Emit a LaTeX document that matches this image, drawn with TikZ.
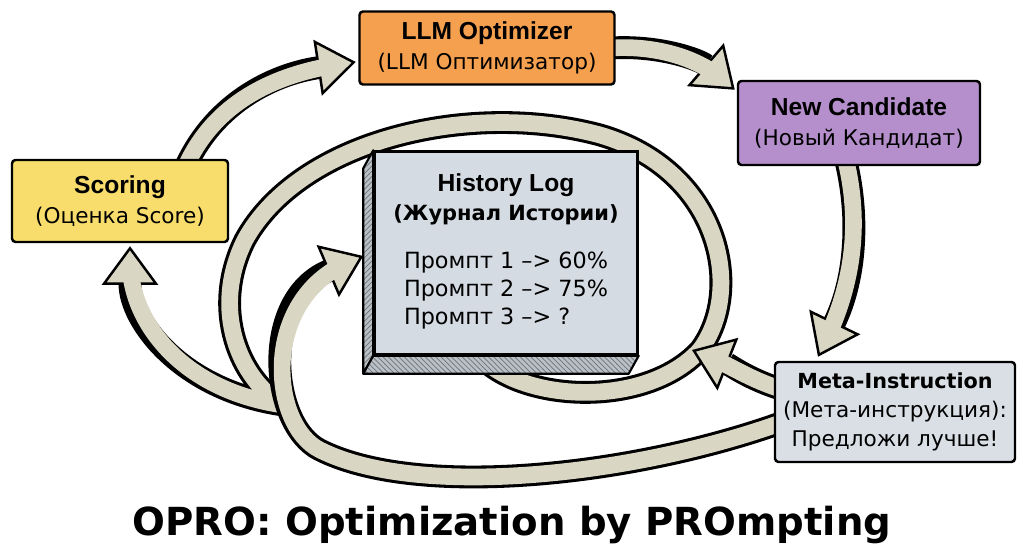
\documentclass[tikz,border=0pt]{standalone}
\usepackage{fontspec}
\setmainfont{Liberation Sans}
\newfontfamily\comicfont{DejaVu Sans}
\usetikzlibrary{arrows.meta,backgrounds,patterns}

\definecolor{arrowfill}{HTML}{DAD6C4}
\definecolor{optorange}{HTML}{F4A04F}
\definecolor{candpurple}{HTML}{B48FCB}
\definecolor{scoreyellow}{HTML}{F8DD6D}
\definecolor{histface}{HTML}{D4DBE2}
\definecolor{histside}{HTML}{B8C0C8}
\definecolor{metaface}{HTML}{D9DFE5}

\newcommand{\boxhead}[1]{{\bfseries\fontsize{14}{17}\selectfont #1}}
\newcommand{\boxsub}[1]{{\comicfont\fontsize{12.3}{17}\selectfont #1}}

\begin{document}
\begin{tikzpicture}[
  box/.style={draw,line width=1.4pt,rounded corners=2pt,align=center,inner sep=2pt,
    font=\fontsize{12}{17}\selectfont},
  fatarrow/.style={draw=black,line width=13pt,line join=round,
    -{Triangle[length=22pt,width=32pt,line width=1.4pt,fill=arrowfill]},
    postaction={draw=arrowfill,line width=9.5pt,-,shorten >=9pt}},
  sideface/.style={draw,line width=1.2pt,line join=round,pattern=north east lines,
    pattern color=black!55,preaction={fill=histside}}
]
  \useasboundingbox (0,0) rectangle (20.48,11.18);

  \node (llm) at (9.74,10.22) [box,fill=optorange,minimum width=5.1cm,minimum height=1.46cm]
    {\boxhead{LLM Optimizer}\\\boxsub{(LLM Оптимизатор)}};
  \node (nc) at (17.18,8.72) [box,fill=candpurple,minimum width=4.84cm,minimum height=1.68cm]
    {\boxhead{New Candidate}\\\boxsub{(Новый Кандидат)}};
  \node (scoring) at (2.40,7.16) [box,fill=scoreyellow,minimum width=4.32cm,minimum height=1.64cm]
    {\boxhead{Scoring}\\\boxsub{(Оценка Score)}};
  \node (hist) at (10.12,6.12) [box,fill=histface,rounded corners=0pt,minimum width=5.26cm,minimum height=4.06cm]
    {\boxhead{History Log}\\{\comicfont\bfseries\fontsize{11.9}{17}\selectfont (Журнал Истории)}\\[12pt]
     {\comicfont\fontsize{12.7}{16}\selectfont\begin{tabular}{@{}l@{}}Промпт 1 –> 60\%\\Промпт 2 –> 75\%\\Промпт 3 –> ?\end{tabular}}};
  \node (meta) at (17.90,2.94) [box,fill=metaface,minimum width=4.8cm,minimum height=2.0cm,
    font=\fontsize{12}{16.4}\selectfont]
    {{\comicfont\bfseries\fontsize{11.8}{16}\selectfont Meta-Instruction}\\\boxsub{(Мета-инструкция):}\\\boxsub{Предложи лучше!}};

  \node (title) at (10.24,0.68) [font=\comicfont\bfseries\fontsize{22}{26}\selectfont]
    {OPRO: Optimization by PROmpting};

  \begin{scope}[on background layer]
    \coordinate (ringhit) at (13.84,4.18);
    % ring round the history log, ending at scoring
    \draw[fatarrow] ([xshift=-0.72cm,yshift=0.3cm]hist.south) .. controls (9.90,3.18) and (12.80,2.88) .. (14.00,4.18)
      .. controls (14.90,5.38) and (14.40,7.78) .. (12.00,8.48)
      .. controls (9.40,9.18) and (6.00,8.38) .. (4.90,6.38)
      .. controls (4.20,4.98) and (4.80,3.58) .. (5.66,3.08)
      .. controls (3.60,3.38) and (2.60,4.78) .. ([xshift=0.2cm,yshift=-0.06cm]scoring.south);
    \draw[fatarrow] ([xshift=0.3cm,yshift=-0.16cm]meta.west) .. controls (12.80,1.68) and (8.40,1.18) .. (6.40,2.18)
      .. controls (5.40,2.68) and (5.20,5.18) .. ([xshift=-0.2cm,yshift=-0.06cm]hist.west);
    \draw[fatarrow] ([xshift=0.2cm,yshift=0.44cm]meta.west) .. controls (15.0,3.58) and (14.6,3.88) .. (ringhit);

    \draw[fatarrow] ([xshift=1.34cm,yshift=-0.1cm]scoring.north) .. controls (4.30,9.08) and (5.40,9.68) .. ([xshift=-0.05cm,yshift=-0.28cm]llm.west);
    \draw[fatarrow] ([xshift=-0.1cm]llm.east) .. controls (13.2,10.28) and (14.0,9.98) .. ([xshift=-0.04cm,yshift=-0.2cm]nc.north west);
    \draw[fatarrow] ([xshift=-0.26cm,yshift=0.1cm]nc.south) .. controls (17.2,6.78) and (17.1,5.58) .. ([xshift=-1.54cm,yshift=0.08cm]meta.north);

    \draw[sideface] (hist.north west) -- ++(-0.2,-0.36) -- ([shift={(-0.2,-0.36)}]hist.south west) -- (hist.south west) -- cycle;
    \draw[sideface,pattern=north west lines] (hist.south west) -- ([shift={(-0.2,-0.36)}]hist.south west)
      -- ([shift={(-0.2,-0.36)}]hist.south east) -- (hist.south east) -- cycle;
  \end{scope}
\end{tikzpicture}
\end{document}
